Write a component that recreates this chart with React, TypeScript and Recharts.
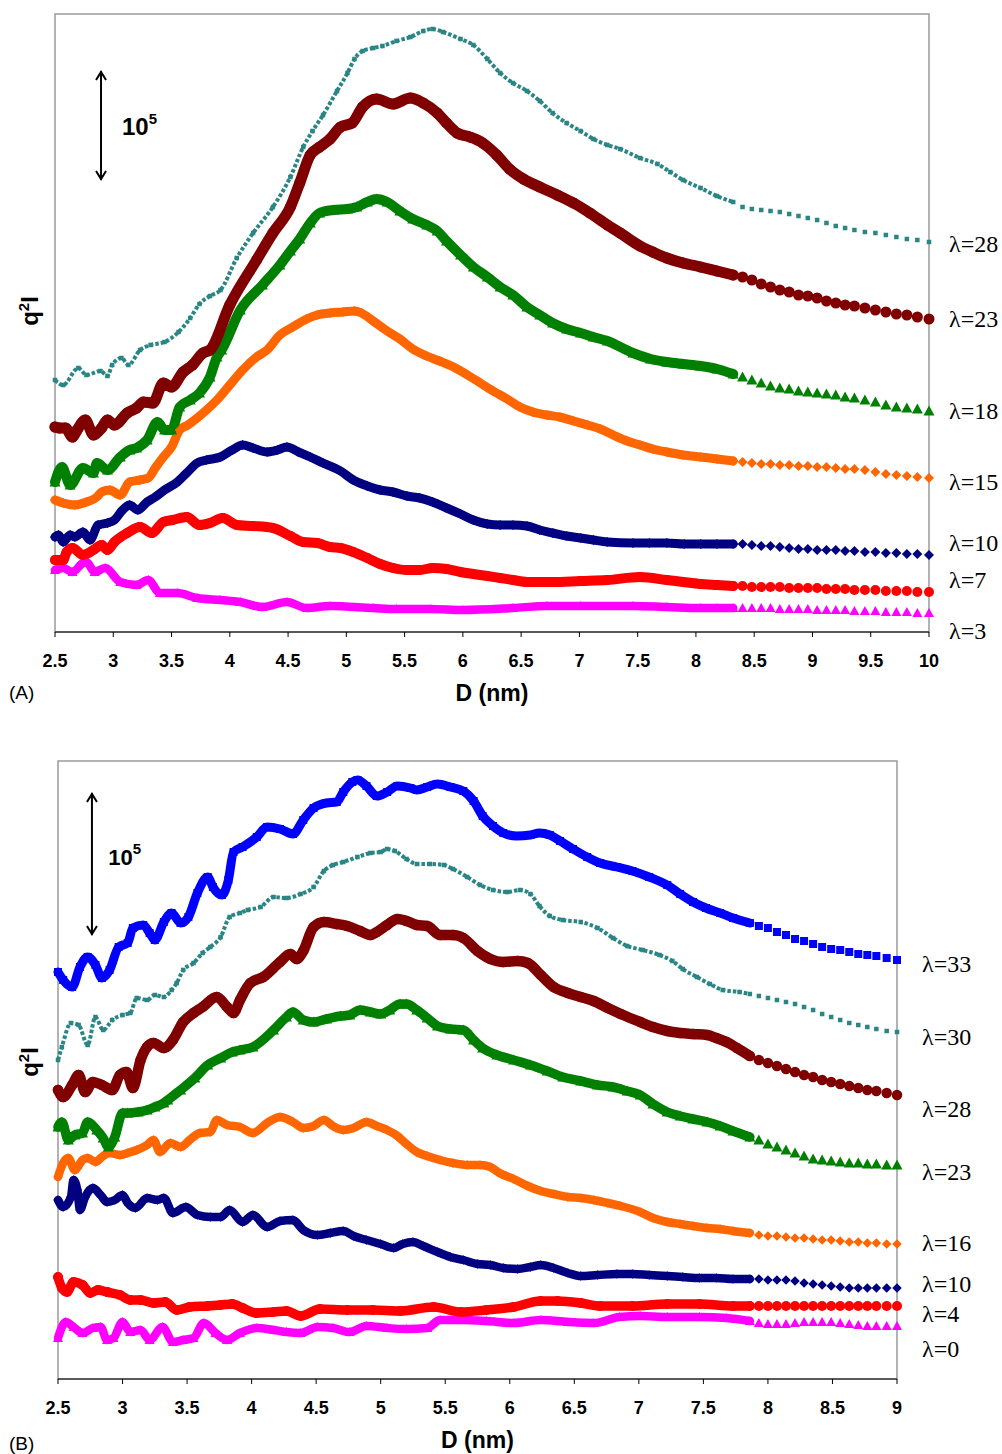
import React from 'react'
import { LineChart, Line, XAxis, YAxis, ReferenceArea, ReferenceLine, ReferenceDot } from 'recharts'

type Pt = [number, number]

// (A) q²I (arbitrary units, arrow = 10^5) vs D (nm)
const a28: Pt[] = [[2.50,252],[2.57,247],[2.70,264],[2.77,257],[2.89,261],[2.95,256],[2.99,267],[3.07,274],[3.13,267],[3.23,282],[3.32,287],[3.44,290],[3.56,300],[3.66,314],[3.74,328],[3.83,336],[3.92,342],[4.06,374],[4.20,399],[4.37,425],[4.52,455],[4.63,485],[4.71,501],[4.80,517],[4.92,541],[5.01,559],[5.07,573],[5.14,581],[5.23,584],[5.31,586],[5.43,591],[5.55,595],[5.66,601],[5.74,603],[5.83,600],[5.98,593],[6.09,587],[6.21,573],[6.32,559],[6.43,549],[6.55,541],[6.66,531],[6.77,519],[6.89,509],[7.01,501],[7.12,493],[7.24,487],[7.35,483],[7.52,474],[7.67,468],[7.78,460],[7.89,452],[8.04,444],[8.18,436],[8.32,430],[8.40,425],[8.48,423],[8.56,422],[8.64,421],[8.72,420],[8.80,418],[8.88,416],[8.96,414],[9.04,412],[9.12,409],[9.20,406],[9.28,404],[9.36,402],[9.45,400],[9.54,399],[9.63,397],[9.72,395],[9.81,393],[9.90,392],[10.0,390]]
const a23: Pt[] = [[2.50,205],[2.54,204],[2.59,204],[2.65,195],[2.69,202],[2.76,212],[2.83,197],[2.90,204],[2.95,212],[3.01,207],[3.12,219],[3.20,224],[3.26,230],[3.34,229],[3.43,249],[3.50,245],[3.60,260],[3.68,267],[3.77,279],[3.83,282],[4.00,327],[4.23,372],[4.37,399],[4.52,425],[4.60,449],[4.69,477],[4.77,485],[4.86,493],[4.95,505],[5.05,509],[5.14,525],[5.26,533],[5.40,528],[5.55,534],[5.66,529],[5.78,519],[5.86,509],[5.95,499],[6.06,495],[6.17,489],[6.29,477],[6.40,463],[6.52,453],[6.66,445],[6.81,437],[6.95,429],[7.09,419],[7.24,407],[7.35,399],[7.52,386],[7.63,380],[7.75,374],[7.89,369],[8.04,365],[8.18,361],[8.32,357],[8.40,355],[8.48,352],[8.56,348],[8.64,345],[8.72,342],[8.80,340],[8.88,337],[8.96,336],[9.04,334],[9.12,331],[9.20,329],[9.28,327],[9.36,326],[9.45,324],[9.54,322],[9.63,320],[9.72,318],[9.81,317],[9.90,315],[10.0,313]]
const a18: Pt[] = [[2.50,150],[2.56,165],[2.63,147],[2.74,164],[2.83,159],[2.86,169],[2.95,162],[3.06,175],[3.14,182],[3.20,184],[3.29,192],[3.38,210],[3.44,202],[3.50,202],[3.57,225],[3.66,232],[3.74,239],[3.83,255],[3.89,275],[3.93,282],[4.09,322],[4.28,347],[4.43,367],[4.52,381],[4.60,393],[4.69,409],[4.77,419],[4.89,422],[5.01,423],[5.09,425],[5.18,430],[5.26,433],[5.35,430],[5.46,421],[5.57,413],[5.69,407],[5.78,401],[5.86,391],[5.98,377],[6.09,365],[6.21,355],[6.32,345],[6.43,337],[6.55,325],[6.66,317],[6.77,309],[6.89,303],[7.01,299],[7.12,295],[7.24,291],[7.46,279],[7.61,273],[7.75,270],[7.89,268],[8.04,266],[8.18,263],[8.32,258],[8.40,255],[8.48,252],[8.56,249],[8.64,246],[8.72,244],[8.80,243],[8.88,241],[8.96,240],[9.04,239],[9.12,238],[9.20,237],[9.28,235],[9.36,234],[9.45,232],[9.54,230],[9.63,227],[9.72,225],[9.81,224],[9.90,223],[10.0,221]]
const a15: Pt[] = [[2.50,132],[2.57,129],[2.67,127],[2.77,130],[2.86,135],[2.90,140],[2.97,142],[3.06,137],[3.14,150],[3.23,152],[3.30,154],[3.36,164],[3.43,175],[3.50,185],[3.57,202],[3.64,207],[3.72,214],[3.80,222],[3.89,232],[4.00,247],[4.11,262],[4.23,275],[4.32,282],[4.43,297],[4.54,305],[4.66,313],[4.75,317],[4.86,319],[4.97,320],[5.07,321],[5.13,319],[5.23,311],[5.35,301],[5.46,293],[5.57,283],[5.69,276],[5.80,271],[5.92,265],[6.04,257],[6.15,249],[6.26,241],[6.38,233],[6.49,225],[6.60,220],[6.72,217],[6.83,215],[6.95,211],[7.07,207],[7.18,203],[7.29,197],[7.41,191],[7.52,187],[7.63,183],[7.75,180],[7.89,177],[8.04,175],[8.18,173],[8.32,171],[8.40,170],[8.48,169],[8.56,168],[8.64,168],[8.72,167],[8.80,167],[8.88,166],[8.96,166],[9.04,165],[9.12,165],[9.20,164],[9.28,163],[9.36,163],[9.45,162],[9.54,160],[9.63,158],[9.72,157],[9.81,156],[9.90,155],[10.0,154]]
const a10: Pt[] = [[2.50,95],[2.53,97],[2.57,90],[2.63,97],[2.67,95],[2.74,100],[2.80,92],[2.87,107],[2.95,109],[3.01,112],[3.08,122],[3.14,127],[3.21,122],[3.29,130],[3.36,135],[3.44,142],[3.55,150],[3.63,159],[3.72,169],[3.80,172],[3.92,175],[4.02,182],[4.11,187],[4.20,184],[4.32,180],[4.41,182],[4.49,185],[4.59,180],[4.69,175],[4.80,169],[4.95,161],[5.06,152],[5.18,146],[5.29,142],[5.40,140],[5.52,136],[5.63,134],[5.74,130],[5.86,124],[5.98,118],[6.09,112],[6.21,108],[6.32,107],[6.43,107],[6.55,106],[6.66,102],[6.77,99],[6.89,96],[7.01,94],[7.12,92],[7.24,90],[7.46,89],[7.60,89],[7.75,89],[7.90,88],[8.04,88],[8.18,88],[8.32,88],[8.40,88],[8.48,87],[8.56,86],[8.64,86],[8.72,85],[8.80,84],[8.88,83],[8.96,83],[9.04,82],[9.12,82],[9.20,82],[9.28,81],[9.36,81],[9.45,80],[9.54,80],[9.63,79],[9.72,79],[9.81,78],[9.90,78],[10.0,77]]
const a7: Pt[] = [[2.50,72],[2.57,72],[2.60,80],[2.65,84],[2.74,77],[2.83,82],[2.90,87],[2.95,82],[3.01,90],[3.12,99],[3.23,105],[3.33,99],[3.43,110],[3.51,112],[3.63,115],[3.74,107],[3.83,109],[3.94,114],[4.06,107],[4.20,106],[4.37,104],[4.52,96],[4.63,90],[4.75,89],[4.86,85],[4.95,84],[5.06,80],[5.18,74],[5.29,68],[5.40,64],[5.52,62],[5.63,62],[5.74,64],[5.86,63],[5.98,60],[6.09,58],[6.21,56],[6.32,54],[6.43,52],[6.55,50],[6.77,50],[7.01,51],[7.24,52],[7.52,55],[7.75,52],[7.89,50],[8.04,48],[8.18,47],[8.32,46],[8.40,46],[8.48,45],[8.56,45],[8.64,45],[8.72,45],[8.80,44],[8.88,44],[8.96,44],[9.04,44],[9.12,43],[9.20,43],[9.28,43],[9.36,42],[9.45,42],[9.54,42],[9.63,41],[9.72,41],[9.81,41],[9.90,40],[10.0,40]]
const a3: Pt[] = [[2.50,62],[2.57,64],[2.65,60],[2.74,69],[2.77,70],[2.84,60],[2.93,64],[3.06,50],[3.20,47],[3.30,52],[3.40,39],[3.55,39],[3.72,34],[3.92,32],[4.09,30],[4.28,25],[4.49,30],[4.66,24],[4.86,26],[5.23,24],[5.43,23],[5.72,23],[6.00,22],[6.43,24],[6.72,26],[7.01,26],[7.46,26],[7.75,25],[8.04,24],[8.18,24],[8.32,24],[8.40,24],[8.48,24],[8.56,24],[8.64,24],[8.72,23],[8.80,23],[8.88,23],[8.96,23],[9.04,22],[9.12,22],[9.20,22],[9.28,22],[9.36,21],[9.45,21],[9.54,21],[9.63,20],[9.72,20],[9.81,20],[9.90,19],[10.0,19]]

// (B)
const b33: Pt[] = [[2.50,407],[2.54,399],[2.61,392],[2.67,412],[2.73,422],[2.79,414],[2.84,401],[2.90,409],[2.97,432],[3.04,436],[3.08,451],[3.16,454],[3.21,446],[3.25,439],[3.32,457],[3.38,466],[3.45,456],[3.51,462],[3.58,486],[3.66,502],[3.70,492],[3.77,484],[3.82,499],[3.86,527],[3.93,532],[4.04,542],[4.12,552],[4.22,550],[4.32,545],[4.40,559],[4.48,571],[4.58,576],[4.66,577],[4.71,587],[4.78,597],[4.82,599],[4.89,593],[4.97,583],[5.05,587],[5.13,593],[5.23,591],[5.28,589],[5.36,592],[5.44,595],[5.54,592],[5.64,588],[5.72,578],[5.79,563],[5.87,553],[5.95,546],[6.05,543],[6.16,544],[6.23,546],[6.31,544],[6.39,538],[6.49,530],[6.60,522],[6.70,516],[6.83,512],[6.95,508],[7.08,502],[7.22,494],[7.32,485],[7.42,477],[7.52,471],[7.63,466],[7.73,461],[7.86,456],[7.93,453],[8.00,451],[8.07,447],[8.14,444],[8.21,440],[8.28,438],[8.35,435],[8.42,432],[8.49,430],[8.56,429],[8.63,427],[8.70,425],[8.77,424],[8.84,423],[8.92,421],[9.00,419]]
const b30: Pt[] = [[2.50,319],[2.53,332],[2.60,356],[2.66,354],[2.73,334],[2.79,362],[2.85,349],[2.92,359],[3.00,364],[3.06,366],[3.11,381],[3.19,379],[3.25,384],[3.32,382],[3.38,389],[3.42,396],[3.47,409],[3.55,416],[3.62,426],[3.68,432],[3.76,442],[3.83,462],[3.91,466],[3.97,469],[4.07,472],[4.17,482],[4.27,481],[4.38,485],[4.48,492],[4.56,508],[4.63,514],[4.71,517],[4.82,522],[4.92,526],[5.00,527],[5.05,530],[5.11,528],[5.20,520],[5.28,515],[5.38,515],[5.49,514],[5.56,510],[5.67,502],[5.77,494],[5.87,489],[5.98,487],[6.08,489],[6.16,485],[6.23,473],[6.31,463],[6.41,459],[6.55,457],[6.68,451],[6.80,441],[6.91,433],[7.03,429],[7.16,424],[7.26,418],[7.34,410],[7.45,402],[7.55,395],[7.65,389],[7.78,387],[7.86,385],[7.93,383],[8.00,381],[8.07,379],[8.14,377],[8.21,375],[8.28,372],[8.35,369],[8.42,365],[8.49,362],[8.56,359],[8.63,356],[8.70,354],[8.77,352],[8.84,350],[8.92,348],[9.00,347]]
const b28: Pt[] = [[2.50,289],[2.54,282],[2.61,294],[2.66,304],[2.71,287],[2.77,297],[2.84,294],[2.92,289],[2.98,304],[3.03,307],[3.08,291],[3.14,319],[3.19,332],[3.24,336],[3.32,331],[3.39,339],[3.47,357],[3.55,366],[3.62,372],[3.73,382],[3.81,372],[3.86,366],[3.91,379],[3.99,396],[4.09,402],[4.22,417],[4.30,425],[4.35,420],[4.40,428],[4.48,452],[4.56,457],[4.66,455],[4.74,453],[4.84,448],[4.92,444],[4.97,447],[5.05,454],[5.13,460],[5.20,458],[5.28,454],[5.36,453],[5.46,444],[5.56,444],[5.64,441],[5.75,428],[5.85,420],[5.95,417],[6.06,418],[6.14,416],[6.24,404],[6.34,392],[6.45,386],[6.55,382],[6.65,378],[6.76,371],[6.86,365],[7.01,357],[7.11,352],[7.22,348],[7.32,346],[7.42,345],[7.53,344],[7.60,341],[7.68,337],[7.76,331],[7.86,323],[7.93,319],[8.00,316],[8.07,313],[8.14,310],[8.21,307],[8.28,304],[8.35,302],[8.42,299],[8.49,297],[8.56,295],[8.63,293],[8.70,291],[8.77,289],[8.84,288],[8.92,286],[9.00,284]]
const b23: Pt[] = [[2.50,252],[2.53,257],[2.58,239],[2.63,244],[2.69,246],[2.73,257],[2.80,249],[2.85,241],[2.89,232],[2.94,242],[3.00,266],[3.04,266],[3.12,267],[3.19,269],[3.25,272],[3.32,276],[3.35,279],[3.45,289],[3.56,301],[3.66,314],[3.76,321],[3.85,327],[3.91,329],[4.01,332],[4.17,349],[4.27,362],[4.32,367],[4.40,359],[4.48,357],[4.58,360],[4.69,363],[4.76,364],[4.84,369],[4.92,367],[5.00,365],[5.07,369],[5.15,375],[5.20,375],[5.28,369],[5.36,361],[5.44,353],[5.54,350],[5.64,349],[5.72,339],[5.79,331],[5.90,324],[6.03,319],[6.16,314],[6.29,308],[6.41,302],[6.55,298],[6.68,294],[6.80,292],[6.91,288],[7.01,284],[7.11,275],[7.22,267],[7.32,263],[7.42,260],[7.53,257],[7.63,253],[7.73,248],[7.86,242],[7.93,239],[8.00,235],[8.07,232],[8.14,229],[8.21,226],[8.28,223],[8.35,220],[8.42,219],[8.49,218],[8.56,217],[8.63,216],[8.70,216],[8.77,215],[8.84,215],[8.92,214],[9.00,214]]
const b16: Pt[] = [[2.50,202],[2.54,216],[2.58,221],[2.63,209],[2.69,219],[2.73,221],[2.79,217],[2.84,222],[2.90,226],[2.98,224],[3.04,226],[3.11,229],[3.19,234],[3.24,239],[3.29,227],[3.37,236],[3.45,232],[3.52,239],[3.60,246],[3.68,247],[3.73,259],[3.81,254],[3.91,252],[4.01,246],[4.12,256],[4.22,262],[4.32,257],[4.40,251],[4.48,253],[4.56,259],[4.63,253],[4.71,249],[4.79,251],[4.89,257],[4.97,253],[5.05,249],[5.13,243],[5.20,235],[5.28,227],[5.36,223],[5.46,219],[5.56,216],[5.67,214],[5.77,214],[5.85,212],[5.92,206],[6.03,200],[6.14,193],[6.24,188],[6.34,185],[6.45,182],[6.55,181],[6.65,179],[6.76,176],[6.86,173],[7.01,167],[7.11,161],[7.22,157],[7.32,155],[7.42,153],[7.53,151],[7.63,150],[7.73,148],[7.86,146],[7.93,144],[8.00,143],[8.07,143],[8.14,142],[8.21,141],[8.28,141],[8.35,140],[8.42,139],[8.49,139],[8.56,138],[8.63,137],[8.70,137],[8.77,136],[8.84,136],[8.92,135],[9.00,135]]
const b10: Pt[] = [[2.50,179],[2.54,172],[2.60,182],[2.62,199],[2.65,189],[2.67,169],[2.71,182],[2.77,191],[2.83,184],[2.88,177],[2.94,179],[3.00,184],[3.04,176],[3.10,171],[3.19,181],[3.27,179],[3.32,181],[3.39,166],[3.49,172],[3.58,164],[3.68,162],[3.76,162],[3.83,169],[3.93,157],[4.01,164],[4.12,152],[4.22,158],[4.32,159],[4.40,149],[4.51,144],[4.61,146],[4.71,148],[4.79,143],[4.89,139],[5.00,135],[5.10,131],[5.17,135],[5.25,137],[5.33,133],[5.44,127],[5.54,122],[5.64,119],[5.75,115],[5.85,114],[5.95,111],[6.06,110],[6.16,112],[6.24,114],[6.34,111],[6.45,106],[6.55,103],[6.68,104],[6.83,105],[6.95,105],[7.08,104],[7.22,103],[7.34,102],[7.47,101],[7.60,101],[7.73,100],[7.86,100],[7.93,100],[8.00,99],[8.07,99],[8.14,99],[8.21,98],[8.28,96],[8.35,95],[8.42,94],[8.49,93],[8.56,92],[8.63,91],[8.70,91],[8.77,91],[8.84,91],[8.92,91],[9.00,91]]
const b4: Pt[] = [[2.50,102],[2.53,91],[2.57,87],[2.62,97],[2.69,94],[2.75,86],[2.81,89],[2.88,87],[2.98,84],[3.06,79],[3.14,79],[3.24,76],[3.33,77],[3.42,69],[3.52,72],[3.66,73],[3.76,74],[3.85,75],[3.93,71],[4.04,66],[4.17,67],[4.27,68],[4.38,63],[4.53,70],[4.74,69],[4.94,69],[5.15,68],[5.41,72],[5.62,67],[5.82,69],[6.03,72],[6.24,78],[6.37,78],[6.55,76],[6.70,73],[6.95,73],[7.22,75],[7.47,75],[7.73,73],[7.86,73],[7.93,73],[8.00,73],[8.07,73],[8.14,73],[8.21,73],[8.28,73],[8.35,73],[8.42,73],[8.49,73],[8.56,73],[8.63,73],[8.70,73],[8.77,73],[8.84,73],[8.92,73],[9.00,73]]
const b0: Pt[] = [[2.50,41],[2.56,57],[2.62,52],[2.69,46],[2.77,51],[2.83,52],[2.88,39],[2.93,41],[3.00,57],[3.06,47],[3.14,49],[3.21,39],[3.31,52],[3.39,37],[3.47,39],[3.55,41],[3.63,56],[3.72,46],[3.81,39],[3.91,46],[4.04,51],[4.17,49],[4.27,47],[4.38,46],[4.51,52],[4.63,51],[4.76,47],[4.89,53],[5.05,51],[5.20,50],[5.36,51],[5.46,59],[5.62,59],[5.82,58],[6.03,56],[6.24,59],[6.45,57],[6.65,56],[6.85,62],[7.01,63],[7.22,62],[7.47,62],[7.68,61],[7.86,58],[7.93,56],[8.00,55],[8.07,55],[8.14,55],[8.21,56],[8.28,57],[8.35,57],[8.42,57],[8.49,57],[8.56,56],[8.63,55],[8.70,54],[8.77,53],[8.84,53],[8.92,53],[9.00,53]]

const ticksA = [2.5, 3, 3.5, 4, 4.5, 5, 5.5, 6, 6.5, 7, 7.5, 8, 8.5, 9, 9.5, 10]
const ticksB = [2.5, 3, 3.5, 4, 4.5, 5, 5.5, 6, 6.5, 7, 7.5, 8, 8.5, 9]

const SANS = '"Liberation Sans", Arial, sans-serif'
const SERIF = '"Liberation Serif", "Times New Roman", serif'

const TEAL = '#2a8585'
const MAROON = '#800000'
const GREEN = '#008000'
const ORANGE = '#ff6600'
const NAVY = '#000080'
const RED = '#ff0000'
const MAGENTA = '#ff00ff'
const BLUE = '#0000ff'

type Shape = 'circle' | 'triangle' | 'diamond' | 'square'
type Series = { name: string; pts: Pt[]; color: string; shape: Shape; size: number; band: number; dash?: string; labelY: number }

const seriesA: Series[] = [
  { name: 'λ=3', pts: a3, color: MAGENTA, shape: 'triangle', size: 10, band: 8.5, labelY: 2 },
  { name: 'λ=7', pts: a7, color: RED, shape: 'circle', size: 10, band: 10, labelY: 53 },
  { name: 'λ=10', pts: a10, color: NAVY, shape: 'diamond', size: 10, band: 9, labelY: 90 },
  { name: 'λ=15', pts: a15, color: ORANGE, shape: 'diamond', size: 10, band: 9, labelY: 151 },
  { name: 'λ=18', pts: a18, color: GREEN, shape: 'triangle', size: 11, band: 10, labelY: 222 },
  { name: 'λ=23', pts: a23, color: MAROON, shape: 'circle', size: 11, band: 11, labelY: 314 },
  { name: 'λ=28', pts: a28, color: TEAL, shape: 'square', size: 4.5, band: 4, dash: '3.5 2', labelY: 389 },
]

const seriesB: Series[] = [
  { name: 'λ=0', pts: b0, color: MAGENTA, shape: 'triangle', size: 10, band: 8.5, labelY: 31 },
  { name: 'λ=4', pts: b4, color: RED, shape: 'circle', size: 10, band: 9.5, labelY: 66 },
  { name: 'λ=10', pts: b10, color: NAVY, shape: 'diamond', size: 9.5, band: 8.5, labelY: 96 },
  { name: 'λ=16', pts: b16, color: ORANGE, shape: 'diamond', size: 9.5, band: 8.5, labelY: 137 },
  { name: 'λ=23', pts: b23, color: GREEN, shape: 'triangle', size: 11, band: 9.5, labelY: 208 },
  { name: 'λ=28', pts: b28, color: MAROON, shape: 'circle', size: 10.5, band: 10.5, labelY: 271 },
  { name: 'λ=30', pts: b30, color: TEAL, shape: 'square', size: 4.5, band: 4, dash: '3.5 2', labelY: 343 },
  { name: 'λ=33', pts: b33, color: BLUE, shape: 'square', size: 8, band: 9, labelY: 416 },
]

const rows = (pts: Pt[]) => pts.map(([d, v]) => ({ d, v }))

function makeDot(shape: Shape, size: number, color: string) {
  return (p: any) => {
    const { cx, cy, index } = p
    const k = `m-${index}`
    if (cx == null || cy == null || isNaN(cx) || isNaN(cy)) return <g key={k} />
    const h = size / 2
    if (shape === 'circle') return <circle key={k} cx={cx} cy={cy} r={h} fill={color} />
    if (shape === 'square') return <rect key={k} x={cx - h} y={cy - h} width={size} height={size} fill={color} />
    if (shape === 'diamond') return <path key={k} d={`M${cx},${cy - h}L${cx + h},${cy}L${cx},${cy + h}L${cx - h},${cy}Z`} fill={color} />
    return <path key={k} d={`M${cx},${cy - h}L${cx + h},${cy + h * 0.8}L${cx - h},${cy + h * 0.8}Z`} fill={color} />
  }
}

const arrowShape = (p: any) => {
  const { x1, y1, y2 } = p
  const top = Math.min(y1, y2)
  const bot = Math.max(y1, y2)
  return (
    <g>
      <line x1={x1} y1={top} x2={x1} y2={bot} stroke="#000" strokeWidth={2} />
      <polyline points={`${x1 - 5},${top + 9} ${x1},${top + 1} ${x1 + 5},${top + 9}`} fill="none" stroke="#000" strokeWidth={2} />
      <polyline points={`${x1 - 5},${bot - 9} ${x1},${bot - 1} ${x1 + 5},${bot - 9}`} fill="none" stroke="#000" strokeWidth={2} />
    </g>
  )
}

type PanelProps = {
  series: Series[]
  ticks: number[]
  xMax: number
  cut: number
  top: number
  height: number
  margin: { top: number; right: number; bottom: number; left: number }
  arrowX: number
  arrowY: [number, number]
  noteX: number
  noteY: number
  noteSize: number
  labelOffset: number
  tag: string
  tagY: number
  yLabelY: number
}

function Panel(props: PanelProps) {
  const { series, ticks, xMax, cut, top, height, margin, arrowX, arrowY, noteX, noteY, noteSize, labelOffset, tag, tagY, yLabelY } = props
  return (
    <div style={{ position: 'absolute', left: 0, top }}>
      <LineChart width={1002} height={height} margin={margin}>
        <XAxis
          type="number"
          dataKey="d"
          domain={[2.5, xMax]}
          ticks={ticks}
          interval={0}
          height={40}
          tickSize={5}
          tickMargin={17}
          axisLine={{ stroke: '#000' }}
          tickLine={{ stroke: '#000' }}
          tick={{ fill: '#000', fontSize: 18, fontWeight: 700, fontFamily: SANS }}
          label={{ value: 'D (nm)', position: 'bottom', offset: 13, fill: '#000', fontSize: 23, fontWeight: 700, fontFamily: SANS }}
        />
        <YAxis type="number" domain={[0, 618]} hide width={0} />
        <ReferenceArea x1={2.5} x2={xMax} y1={0} y2={618} fill="none" stroke="#9a9a9a" strokeWidth={1.5} ifOverflow="visible" />
        {series.map((s) => (
          <Line
            key={`band-${s.name}`}
            data={rows(s.pts.filter((p) => p[0] <= cut))}
            dataKey="v"
            type="monotone"
            stroke={s.color}
            strokeWidth={s.band}
            strokeDasharray={s.dash}
            strokeLinecap={s.dash ? 'butt' : 'round'}
            strokeLinejoin="round"
            dot={false}
            activeDot={false}
            isAnimationActive={false}
          />
        ))}
        {series.map((s) => (
          <Line
            key={`mk-${s.name}`}
            data={rows(s.pts)}
            dataKey="v"
            stroke="none"
            dot={makeDot(s.shape, s.size, s.color)}
            activeDot={false}
            isAnimationActive={false}
          />
        ))}
        {series.map((s) => (
          <ReferenceLine
            key={`lb-${s.name}`}
            y={s.labelY}
            stroke="none"
            ifOverflow="visible"
            label={{ value: s.name, position: 'right', offset: labelOffset, fill: '#000', fontSize: 24, fontFamily: SERIF }}
          />
        ))}
        <ReferenceLine segment={[{ x: arrowX, y: arrowY[0] }, { x: arrowX, y: arrowY[1] }]} shape={arrowShape} ifOverflow="visible" />
        <ReferenceDot
          x={noteX}
          y={noteY}
          r={1}
          ifOverflow="visible"
          shape={(p: any) => (
            <text x={p.cx} y={p.cy} fill="#000" fontSize={noteSize} fontWeight={700} fontFamily={SANS}>
              10<tspan dy={-11} fontSize={15}>5</tspan>
            </text>
          )}
        />
        <text
          x={38}
          y={yLabelY}
          transform={`rotate(-90, 38, ${yLabelY})`}
          textAnchor="middle"
          fill="#000"
          fontSize={24}
          fontWeight={700}
          fontFamily={SANS}
        >
          q<tspan dy={-9} fontSize={15}>2</tspan><tspan dy={9}>I</tspan>
        </text>
        <text x={9} y={tagY} fill="#000" fontSize={19} fontFamily={SANS}>{tag}</text>
      </LineChart>
    </div>
  )
}

export default function App() {
  return (
    <div style={{ position: 'absolute', left: 0, top: 0, width: 1002, height: 1454, background: '#fff' }}>
      <Panel
        series={seriesA}
        ticks={ticksA}
        xMax={10}
        cut={8.33}
        top={0}
        height={710}
        margin={{ top: 14, right: 73, bottom: 38, left: 55 }}
        arrowX={2.895}
        arrowY={[452, 561]}
        noteX={3.075}
        noteY={497}
        noteSize={24}
        labelOffset={20}
        tag="(A)"
        tagY={699}
        yLabelY={311}
      />
      <Panel
        series={seriesB}
        ticks={ticksB}
        xMax={9}
        cut={7.87}
        top={748}
        height={706}
        margin={{ top: 13, right: 105, bottom: 35, left: 58 }}
        arrowX={2.763}
        arrowY={[444, 586]}
        noteX={2.889}
        noteY={514}
        noteSize={22}
        labelOffset={25}
        tag="(B)"
        tagY={702}
        yLabelY={314}
      />
    </div>
  )
}
